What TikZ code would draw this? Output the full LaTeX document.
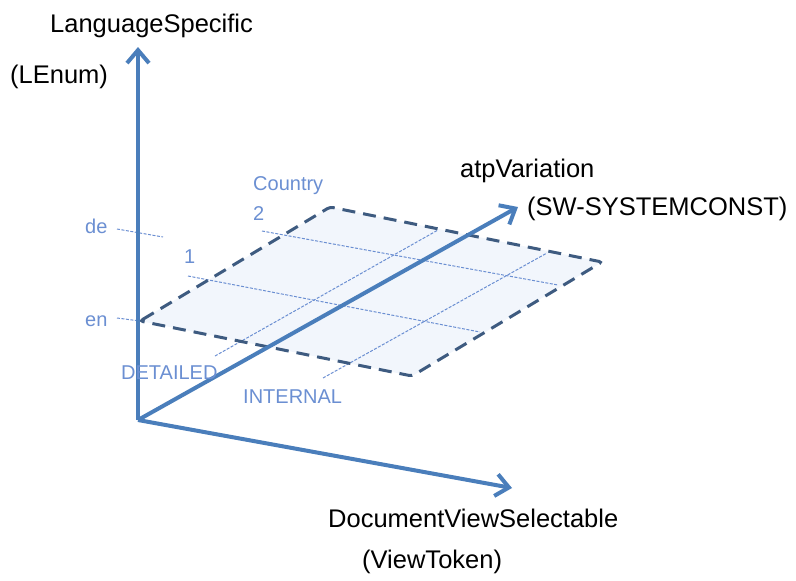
\documentclass[tikz,border=0pt]{standalone}
\usepackage{fontspec}
\setmainfont{Liberation Sans}
\usetikzlibrary{arrows.meta}
\definecolor{axisblue}{HTML}{4A7EBB}
\definecolor{tickblue}{HTML}{6B8FD2}
\definecolor{frameblue}{HTML}{3E5B80}
\definecolor{planefill}{HTML}{F2F6FC}

\begin{document}
\begin{tikzpicture}[x=1pt, y=-1pt,
    axis/.style={draw=axisblue, line width=4pt,
                 -{Straight Barb[length=13pt, width=22pt]}},
    plane/.style={draw=frameblue, line width=3pt, dash pattern=on 13pt off 8pt,
                  fill=planefill, rounded corners=3pt},
    gridline/.style={draw=tickblue, line width=1pt, dash pattern=on 3pt off 1.5pt},
    axislabel/.style={font=\fontsize{25.5}{30}\selectfont, inner sep=0pt, anchor=base west},
    ticklabel/.style={font=\fontsize{20}{24}\selectfont, text=tickblue,
                      inner sep=0pt, anchor=base west}
]
\useasboundingbox (0,0) rectangle (796,581);

% Ebene (Country x View)
\coordinate (pl) at (140,321);
\coordinate (pt) at (330,207);
\coordinate (pr) at (602,262);
\coordinate (pb) at (412,376);
\fill[planefill] (pl) -- (pt) -- (pr) -- (pb) -- cycle;

% Hilfslinien
\draw[gridline] (262,231) -- (558,285);   % Country 2
\draw[gridline] (188,276) -- (480,332);   % Country 1
\draw[gridline] (215,356) -- (438,230);   % DETAILED
\draw[gridline] (323,378) -- (547,253);   % INTERNAL
\draw[gridline] (117,229) -- (163,237);   % de
\draw[gridline] (117,318) -- (pl);        % en

\draw[plane, fill=none] (pl) -- (pt) -- (pr) -- (pb) -- cycle;

% Achsen
\coordinate (o)    at (138,420);
\coordinate (lang) at (138,47);
\coordinate (atp)  at (518,207);
\coordinate (view) at (512,488);
\draw[axis] (o) -- (lang);
\draw[axis] (o) -- (atp);
\draw[axis] (o) -- (view);

% Achsenbeschriftungen
\node[axislabel] (langname)  at (50,32)   {LanguageSpecific};
\node[axislabel] (langtype)  at (10,83)   {(LEnum)};
\node[axislabel] (atpname)   at (460,177) {atpVariation};
\node[axislabel] (atptype)   at (527,215) {(SW-SYSTEMCONST)};
\node[axislabel] (viewname)  at (328,527) {DocumentViewSelectable};
\node[axislabel] (viewtype)  at (362,568) {(ViewToken)};

% Werte
\node[ticklabel] (country)  at (253,190) {Country};
\node[ticklabel] (ctwo)     at (253,220) {2};
\node[ticklabel] (cone)     at (184,263) {1};
\node[ticklabel] (de)       at (85,233)  {de};
\node[ticklabel] (en)       at (85,326)  {en};
\node[ticklabel] (detailed) at (121,379) {DETAILED};
\node[ticklabel] (internal) at (243,403) {INTERNAL};

\end{tikzpicture}
\end{document}
